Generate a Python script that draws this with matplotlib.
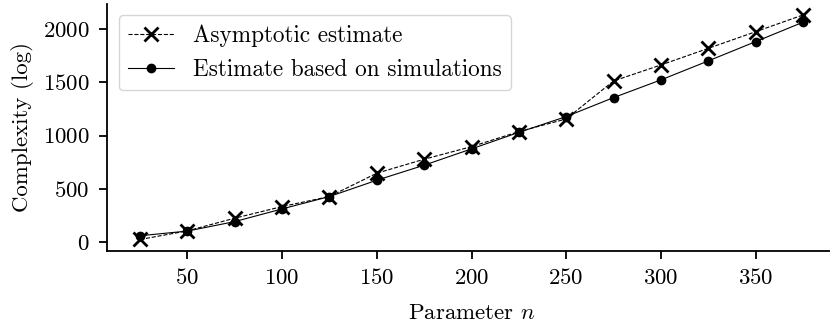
import matplotlib
matplotlib.use("Agg")
import matplotlib.pyplot as plt

plt.rcParams['font.family'] = 'serif'
plt.rcParams['font.serif'] = ['cmr10']
plt.rcParams['mathtext.fontset'] = 'cm'
plt.rcParams['axes.formatter.use_mathtext'] = True
plt.rcParams['font.size'] = 16.5

n = [25, 50, 75, 100, 125, 150, 175, 200, 225, 250, 275, 300, 325, 350, 375]
asymptotic = [25, 106, 225, 334, 428, 647, 778, 896, 1037, 1156, 1512, 1662, 1818, 1974, 2131]
simulations = [60, 104, 193, 312, 428, 581, 722, 875, 1030, 1178, 1356, 1522, 1700, 1881, 2063]

fig = plt.figure(figsize=(8.3, 3.25), dpi=100)
ax = fig.add_axes([107/830, (325-250.7)/325, (836-107)/830, (250.7-3.8)/325])

ax.plot(n, asymptotic, color="black", linestyle="--", linewidth=0.8, marker="x",
        markersize=10, markeredgewidth=2, label="Asymptotic estimate")
ax.plot(n, simulations, color="black", linestyle="-", linewidth=0.8, marker="o",
        markersize=6, label="Estimate based on simulations")

ax.set_xticks([50, 100, 150, 200, 250, 300, 350])
ax.set_yticks([0, 500, 1000, 1500, 2000])
ax.set_xlabel("Parameter $n$", labelpad=11)
ax.set_ylabel("Complexity (log)", labelpad=6)
ax.spines["top"].set_visible(False)
ax.spines["right"].set_visible(False)
ax.spines["left"].set_linewidth(1.3)
ax.spines["bottom"].set_linewidth(1.3)
ax.tick_params(width=1.3, length=6, labelsize=16.5)
ax.tick_params(axis="x", pad=6.5)
ax.tick_params(axis="y", pad=6.5)

ax.legend(loc="upper left", fontsize=16.7, handlelength=2.0, borderaxespad=0.5)

fig.savefig("out.png", dpi=100)
